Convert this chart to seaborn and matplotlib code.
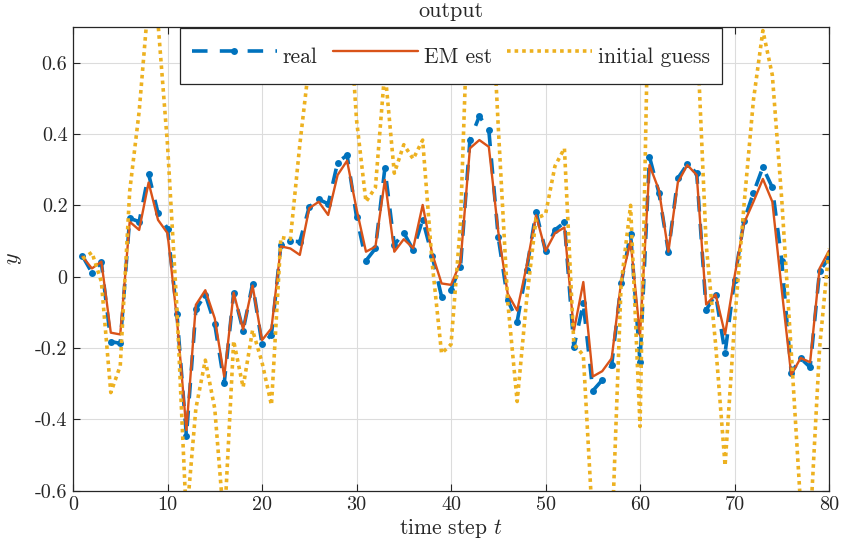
import matplotlib
matplotlib.use("Agg")
import matplotlib.pyplot as plt
import numpy as np
import pandas as pd
import seaborn as sns
from matplotlib.ticker import FuncFormatter, FixedLocator

# time steps
t = list(range(1, 81))

# measured output
real = [0.058, 0.011, 0.040, -0.182, -0.187, 0.164, 0.154, 0.288, 0.178, 0.135,
        -0.105, -0.447, -0.092, -0.050, -0.133, -0.299, -0.045, -0.151, -0.020, -0.189,
        -0.163, 0.090, 0.100, 0.098, 0.196, 0.217, 0.204, 0.320, 0.341, 0.168,
        0.045, 0.079, 0.304, 0.089, 0.123, 0.075, 0.160, 0.058, -0.056, -0.036,
        0.028, 0.383, 0.450, 0.411, 0.110, -0.065, -0.126, 0.020, 0.182, 0.072,
        0.131, 0.152, -0.198, -0.075, -0.320, -0.290, -0.248, -0.019, 0.121, -0.240,
        0.336, 0.235, 0.070, 0.276, 0.315, 0.290, -0.093, -0.050, -0.214, -0.009,
        0.157, 0.235, 0.307, 0.250, 0.045, -0.270, -0.229, -0.254, 0.017, 0.051]

# output of the EM-identified model
em_est = [0.056, 0.023, 0.042, -0.157, -0.162, 0.154, 0.131, 0.264, 0.159, 0.122,
          -0.120, -0.430, -0.079, -0.038, -0.117, -0.280, -0.045, -0.148, -0.025, -0.178,
          -0.145, 0.085, 0.079, 0.061, 0.192, 0.210, 0.173, 0.285, 0.325, 0.190,
          0.070, 0.084, 0.271, 0.070, 0.105, 0.080, 0.201, 0.065, -0.019, -0.023,
          0.040, 0.360, 0.383, 0.364, 0.126, -0.048, -0.095, 0.030, 0.172, 0.072,
          0.122, 0.138, -0.152, -0.015, -0.280, -0.265, -0.229, -0.014, 0.100, -0.165,
          0.313, 0.243, 0.070, 0.264, 0.313, 0.285, -0.078, -0.050, -0.162, 0.000,
          0.150, 0.210, 0.274, 0.210, -0.038, -0.275, -0.228, -0.240, 0.023, 0.073]

# output of the initial model guess
initial_guess = [0.050, 0.068, -0.014, -0.325, -0.250, 0.240, 0.463, 0.780, 0.710, 0.370,
                 -0.090, -0.680, -0.370, -0.234, -0.370, -0.700, -0.180, -0.310, -0.150, -0.240,
                 -0.360, 0.110, 0.105, 0.370, 0.600, 0.750, 0.850, 0.900, 0.850, 0.440,
                 0.210, 0.250, 0.580, 0.290, 0.370, 0.330, 0.383, 0.040, -0.215, -0.190,
                 0.150, 0.930, 1.000, 0.950, 0.420, -0.070, -0.350, -0.065, 0.163, 0.175,
                 0.310, 0.360, -0.190, -0.220, -0.700, -0.900, -0.745, -0.020, 0.200, -0.420,
                 0.950, 1.000, 0.950, 0.900, 0.850, 0.700, 0.090, -0.190, -0.530, -0.130,
                 0.200, 0.495, 0.690, 0.565, 0.215, -0.210, -0.645, -0.700, -0.200, 0.080]

x_ticks = [0, 10, 20, 30, 40, 50, 60, 70, 80]
y_ticks = [-0.6, -0.4, -0.2, 0.0, 0.2, 0.4, 0.6]

sns.set_theme(style="white")
plt.rcParams['font.family'] = ['cmr10', 'DejaVu Serif']
plt.rcParams['mathtext.fontset'] = 'cm'
plt.rcParams['axes.unicode_minus'] = False
plt.rcParams['axes.formatter.use_mathtext'] = False

ink = '#262626'
blue = '#0072BD'
red = '#D95319'
yellow = '#EDB120'

df = pd.DataFrame({'t': t, 'real': real, 'em': em_est, 'init': initial_guess})

fig = plt.figure(figsize=(8.42, 5.53), dpi=100)
ax = fig.add_axes([0.0867, 0.1127, 0.8979, 0.8385])

sns.lineplot(data=df, x='t', y='real', ax=ax, color=blue, lw=2.6,
             linestyle=(0, (4.3, 3.4)), marker='o', markersize=5,
             markeredgewidth=0, sort=False, errorbar=None, label='real')
sns.lineplot(data=df, x='t', y='em', ax=ax, color=red, lw=1.7,
             sort=False, errorbar=None, label='EM est')
sns.lineplot(data=df, x='t', y='init', ax=ax, color=yellow, lw=2.6,
             linestyle=(0, (1, 1.1)), dash_capstyle='butt',
             sort=False, errorbar=None, label='initial guess')

ax.set_xlim(0, 80)
ax.set_ylim(-0.6, 0.7)
ax.xaxis.set_major_locator(FixedLocator(x_ticks))
ax.yaxis.set_major_locator(FixedLocator(y_ticks))
ax.yaxis.set_major_formatter(FuncFormatter(lambda v, p: '0' if abs(v) < 1e-9 else f'{v:.1f}'))
ax.xaxis.set_major_formatter(FuncFormatter(lambda v, p: f'{v:.0f}'))

ax.grid(True, color='#dcdcdc', lw=0.8)
ax.set_axisbelow(True)
for s in ax.spines.values():
    s.set_color(ink)
    s.set_linewidth(0.9)
    s.set_visible(True)
ax.tick_params(direction='in', length=5, width=0.8, colors=ink, labelsize=14.5,
               top=True, right=True, bottom=True, left=True, pad=4)

ax.set_title('output', fontsize=16, color=ink, pad=7)
ax.set_xlabel(r'time step $t$', fontsize=15.5, color=ink, labelpad=2)
ax.set_ylabel(r'$y$', fontsize=16, color=ink, labelpad=8)

leg = ax.legend(loc='upper center', bbox_to_anchor=(0.5, 1.0), ncol=3,
                fontsize=15.5, frameon=True, fancybox=False, framealpha=1,
                edgecolor=ink, handlelength=3.95, handleheight=1.95,
                handletextpad=0.28, columnspacing=0.7, borderpad=0.55,
                borderaxespad=0.05)
leg.get_frame().set_linewidth(0.9)

fig.savefig('out.png', dpi=100)
